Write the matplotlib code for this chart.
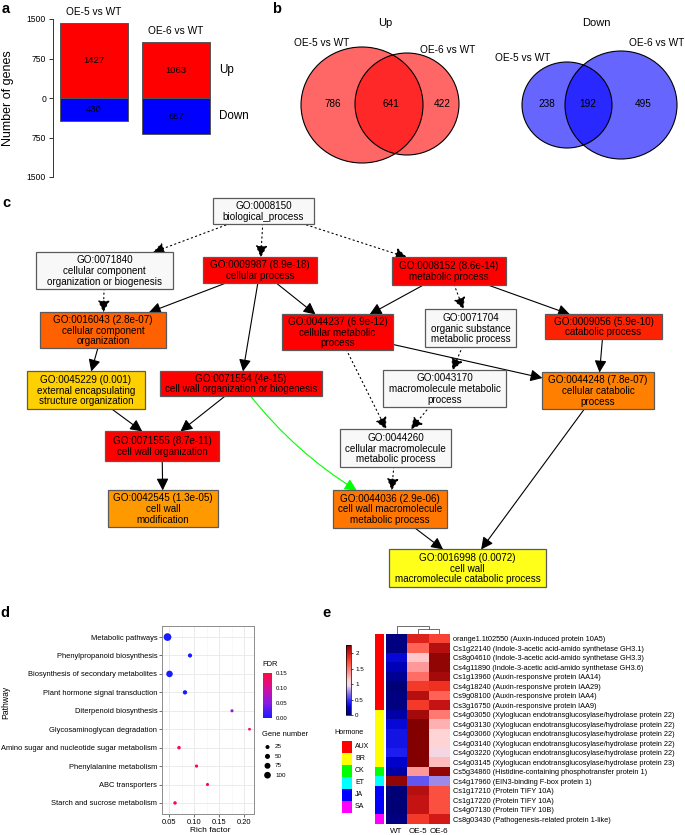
import numpy as np
import matplotlib
matplotlib.use("Agg")
import matplotlib.pyplot as plt
from matplotlib.patches import Rectangle, Ellipse, FancyArrowPatch
from matplotlib.colors import LinearSegmentedColormap, ListedColormap, Normalize
from matplotlib.cm import ScalarMappable

plt.rcParams['font.family'] = ['Liberation Sans', 'DejaVu Sans']

W, H = 685, 835

# ---------------- data: panel a (DEG counts)
comparisons = ['OE-5 vs WT', 'OE-6 vs WT']
up_counts = [1427, 1063]
down_counts = [430, 687]

# ---------------- data: panel b (Venn counts: only OE-5, shared, only OE-6)
venn_up = [786, 641, 422]
venn_down = [238, 192, 495]

# ---------------- data: panel c (GO graph)
go_ids = ['0008150', '0071840', '0009987', '0008152', '0016043', '0044237',
          '0071704', '0009056', '0045229', '0071554', '0043170', '0044248',
          '0071555', '0044260', '0042545', '0044036', '0016998']
go_pvals = [None, None, '8.9e-18', '8.6e-14', '2.8e-07', '6.9e-12',
            None, '5.9e-10', '0.001', '4e-15', None, '7.8e-07',
            '8.7e-11', None, '1.3e-05', '2.9e-06', '0.0072']
go_terms = ['biological_process',
            'cellular component\norganization or biogenesis',
            'cellular process',
            'metabolic process',
            'cellular component\norganization',
            'cellular metabolic\nprocess',
            'organic substance\nmetabolic process',
            'catabolic process',
            'external encapsulating\nstructure organization',
            'cell wall organization or biogenesis',
            'macromolecule metabolic\nprocess',
            'cellular catabolic\nprocess',
            'cell wall organization',
            'cellular macromolecule\nmetabolic process',
            'cell wall\nmodification',
            'cell wall macromolecule\nmetabolic process',
            'cell wall\nmacromolecule catabolic process']
# (parent, child, kind)
go_edges = [('0008150', '0071840', 'dot'), ('0008150', '0009987', 'dot'),
            ('0008150', '0008152', 'dot'), ('0071840', '0016043', 'dot'),
            ('0009987', '0016043', 'solid'), ('0009987', '0071554', 'solid'),
            ('0009987', '0044237', 'solid'), ('0008152', '0044237', 'solid'),
            ('0008152', '0071704', 'dot'), ('0008152', '0009056', 'solid'),
            ('0016043', '0045229', 'solid'), ('0045229', '0071555', 'solid'),
            ('0071554', '0071555', 'solid'), ('0071554', '0044036', 'green'),
            ('0044237', '0044260', 'dot'), ('0044237', '0044248', 'solid'),
            ('0071704', '0043170', 'dot'), ('0009056', '0044248', 'solid'),
            ('0043170', '0044260', 'dot'), ('0071555', '0042545', 'solid'),
            ('0044260', '0044036', 'dot'), ('0044036', '0016998', 'solid'),
            ('0044248', '0016998', 'solid')]

# ---------------- data: panel d (KEGG enrichment)
pathways = ['Metabolic pathways', 'Phenylpropanoid biosynthesis',
            'Biosynthesis of secondary metabolites', 'Plant hormone signal transduction',
            'Diterpenoid biosynthesis', 'Glycosaminoglycan degradation',
            'Amino sugar and nucleotide sugar metabolism', 'Phenylalanine metabolism',
            'ABC transporters', 'Starch and sucrose metabolism']
rich_factor = [0.047, 0.092, 0.051, 0.082, 0.176, 0.211, 0.070, 0.105, 0.127, 0.062]
gene_number = [140, 28, 95, 32, 8, 3, 15, 10, 8, 14]
fdr = [0.0, 0.0, 0.0, 0.0, 0.065, 0.14, 0.135, 0.14, 0.145, 0.14]
gene_legend = [25, 50, 75, 100]

# ---------------- data: panel e (hormone gene heatmap)
gene_labels = ['orange1.1t02550 (Auxin-induced protein 10A5)',
               'Cs1g22140 (Indole-3-acetic acid-amido synthetase GH3.1)',
               'Cs8g04610 (Indole-3-acetic acid-amido synthetase GH3.3)',
               'Cs4g11890 (Indole-3-acetic acid-amido synthetase GH3.6)',
               'Cs1g13960 (Auxin-responsive protein IAA14)',
               'Cs4g18240 (Auxin-responsive protein IAA29)',
               'Cs9g08100 (Auxin-responsive protein IAA4)',
               'Cs3g16750 (Auxin-responsive protein IAA9)',
               'Cs4g03050 (Xyloglucan endotransglucosylase/hydrolase protein 22)',
               'Cs4g03130 (Xyloglucan endotransglucosylase/hydrolase protein 22)',
               'Cs4g03060 (Xyloglucan endotransglucosylase/hydrolase protein 22)',
               'Cs4g03140 (Xyloglucan endotransglucosylase/hydrolase protein 22)',
               'Cs4g03220 (Xyloglucan endotransglucosylase/hydrolase protein 22)',
               'Cs4g03145 (Xyloglucan endotransglucosylase/hydrolase protein 23)',
               'Cs5g34860 (Histidine-containing phosphotransfer protein 1)',
               'Cs4g17960 (EIN3-binding F-box protein 1)',
               'Cs1g17210 (Protein TIFY 10A)',
               'Cs1g17220 (Protein TIFY 10A)',
               'Cs4g07130 (Protein TIFY 10B)',
               'Cs8g03430 (Pathogenesis-related protein 1-like)']
samples = ['WT', 'OE-5', 'OE-6']
expr_wt = [0.05, 0.05, 0.3, 0.2, 0.1, 0.02, 0.05, 0.05, 0.15, 0.3,
           0.35, 0.35, 0.4, 0.25, 0.15, 2.2, 0.02, 0.02, 0.02, 0.05]
expr_oe5 = [1.95, 1.6, 1.15, 1.35, 1.55, 1.8, 2.1, 1.8, 2.15, 2.25,
            2.25, 2.25, 2.25, 2.25, 1.35, 0.6, 2.1, 2.05, 2.05, 1.8]
expr_oe6 = [1.75, 2.1, 2.2, 2.2, 2.15, 1.85, 1.6, 2.05, 1.5, 1.25,
            1.1, 1.1, 1.0, 1.2, 2.2, 0.75, 1.7, 1.7, 1.7, 2.0]
gene_hormone = ['AUX'] * 8 + ['BR'] * 6 + ['CK', 'ET'] + ['JA'] * 3 + ['SA']
hormones = ['AUX', 'BR', 'CK', 'ET', 'JA', 'SA']
hormone_colors = ['#FF0000', '#FFFF00', '#00FF00', '#00FFFF', '#0000FF', '#FF00FF']
dendro_heights = [0.55, 1.0]   # (OE-5,OE-6) then WT


def px_axes(x0, y0, x1, y1):
    return fig.add_axes([x0 / W, 1 - y1 / H, (x1 - x0) / W, (y1 - y0) / H])


fig = plt.figure(figsize=(W / 100, H / 100), dpi=100)
canvas = fig.add_axes([0, 0, 1, 1])
canvas.set_xlim(0, W)
canvas.set_ylim(H, 0)
canvas.axis('off')

# panel letters
for lab, (lx, ly) in zip('abcde', [(2, 13), (272, 13), (2, 207), (0, 617), (322, 617)]):
    canvas.text(lx, ly, lab, fontsize=10.5, fontweight='bold', va='baseline', ha='left')

# ================= panel a
ax_a = px_axes(53, 19, 215, 177)
xs = np.arange(len(comparisons))
ax_a.bar(xs, up_counts, width=0.83, color='#FF0000', edgecolor='#555555', lw=0.7)
ax_a.bar(xs, [-v for v in down_counts], width=0.83, color='#0000FF', edgecolor='#555555', lw=0.7)
for i in xs:
    ax_a.text(i, up_counts[i] / 2, str(up_counts[i]), ha='center', va='center', fontsize=6.8)
    ax_a.text(i, -down_counts[i] / 2, str(down_counts[i]), ha='center', va='center', fontsize=6.8)
    ax_a.text(i, up_counts[i] + 200, comparisons[i], ha='center', va='center', fontsize=7.3)
ax_a.text(1.53, up_counts[-1] / 2, 'Up', ha='left', va='center', fontsize=8.4, clip_on=False)
ax_a.text(1.53, -down_counts[-1] / 2, 'Down', ha='left', va='center', fontsize=8.4, clip_on=False)
ax_a.set_xlim(-0.5, 1.476)
ax_a.set_ylim(-1500, 1500)
ax_a.set_yticks([1500, 750, 0, -750, -1500])
ax_a.set_yticklabels(['1500', '750', '0', '750', '1500'], fontsize=6.2)
ax_a.set_xticks([])
for s in ['top', 'right', 'bottom']:
    ax_a.spines[s].set_visible(False)
ax_a.spines['left'].set_color('#333333')
ax_a.spines['left'].set_linewidth(0.7)
ax_a.tick_params(axis='y', length=3, width=0.7, color='#333333', pad=2)
ax_a.set_ylabel('Number of genes', fontsize=9)
ax_a.yaxis.set_label_coords(-0.24, 0.5)
ax_a.patch.set_visible(False)

# ================= panel b (Venn)
venn_sets = [
    ('Up', 385, venn_up, (1, 0, 0, 0.6),
     [((362, 105), 122, 116), ((407, 104), 104, 102)],
     [(322, 43), (448, 50)], [333, 391, 442]),
    ('Down', 596, venn_down, (0, 0, 1, 0.6),
     [((567, 105), 90, 86), ((621, 105), 112, 108)],
     [(523, 58), (657, 43)], [547, 588, 643]),
]
for title, tx, counts, fc, ells, lab_pos, num_x in venn_sets:
    canvas.text(tx, 23, title, ha='center', va='center', fontsize=8)
    for (c, w, h) in ells:
        canvas.add_patch(Ellipse(c, w, h, facecolor=fc, edgecolor='none'))
    for (c, w, h) in ells:
        canvas.add_patch(Ellipse(c, w, h, facecolor='none', edgecolor='black', lw=0.8))
    for name, (lx, ly) in zip(['OE-5 vs WT', 'OE-6 vs WT'], lab_pos):
        canvas.text(lx, ly, name, ha='center', va='center', fontsize=7.3)
    for v, nx in zip(counts, num_x):
        canvas.text(nx, 104, str(v), ha='center', va='center', fontsize=7.2)

# ================= panel c (GO DAG)
go_boxes = {
    '0008150': (213, 198, 314, 224), '0071840': (36, 252, 173, 289),
    '0009987': (203, 257, 317, 283), '0008152': (392, 257, 506, 285),
    '0016043': (40, 312, 166, 348), '0044237': (282, 314, 393, 350),
    '0071704': (425, 309, 516, 347), '0009056': (545, 314, 662, 339),
    '0045229': (27, 371, 145, 409), '0071554': (160, 371, 322, 396),
    '0043170': (383, 370, 506, 407), '0044248': (542, 372, 654, 409),
    '0071555': (105, 431, 219, 461), '0044260': (340, 429, 451, 467),
    '0042545': (108, 490, 218, 527), '0044036': (333, 490, 447, 528),
    '0016998': (389, 549, 546, 587),
}
go_fill = {
    '0009987': '#FF0000', '0008152': '#FF0000', '0044237': '#FF0000',
    '0071554': '#FF0000', '0071555': '#FF0000', '0009056': '#FF2200',
    '0016043': '#FF6000', '0045229': '#FFD000', '0044248': '#FF8000',
    '0042545': '#FF9900', '0044036': '#FF7700', '0016998': '#FFFF1A',
}
rects = {}
for gid, pv, term in zip(go_ids, go_pvals, go_terms):
    x0, y0, x1, y1 = go_boxes[gid]
    r = Rectangle((x0, y0), x1 - x0, y1 - y0, facecolor=go_fill.get(gid, '#F8F8F8'),
                  edgecolor='#5A5A5A', lw=0.9, zorder=3)
    canvas.add_patch(r)
    rects[gid] = r
    head = 'GO:' + gid if pv is None else 'GO:%s (%s)' % (gid, pv)
    canvas.text((x0 + x1) / 2, (y0 + y1) / 2 + 0.5, head + '\n' + term, ha='center', va='center',
                fontsize=7.1, linespacing=1.12, zorder=4)

for src, dst, kind in go_edges:
    bs, bd = go_boxes[src], go_boxes[dst]
    ps = ((bs[0] + bs[2]) / 2, (bs[1] + bs[3]) / 2)
    pd_ = ((bd[0] + bd[2]) / 2, (bd[1] + bd[3]) / 2)
    col = '#00FF00' if kind == 'green' else 'black'
    ls = (0, (1.2, 2.8)) if kind == 'dot' else '-'
    cs = 'arc3,rad=0.12' if kind == 'green' else 'arc3'
    arr = FancyArrowPatch(ps, pd_, patchA=rects[src], patchB=rects[dst],
                          arrowstyle='-|>,head_length=0.6,head_width=0.3',
                          mutation_scale=12, shrinkA=0, shrinkB=0, color=col,
                          lw=0.8, linestyle=ls, connectionstyle=cs, zorder=2)
    canvas.add_patch(arr)

# ================= panel d (KEGG bubble plot)
ax_d = px_axes(162, 626, 254, 814)
yy = np.arange(len(pathways))
sizes = [3.5 + 0.195 * n for n in gene_number]
cmap_fdr = LinearSegmentedColormap.from_list(
    'fdr', ['#1A1AFF', '#8A1AE6', '#D4109A', '#FF0A3C'])
ax_d.scatter(rich_factor, yy, s=sizes, c=fdr, cmap=cmap_fdr, vmin=0, vmax=0.15,
             edgecolors='none', zorder=3)
ax_d.set_xlim(0.036, 0.22)
ax_d.set_ylim(len(pathways) - 0.4, -0.6)
ax_d.set_yticks(yy)
ax_d.set_yticklabels(pathways, fontsize=5.4)
ax_d.set_xticks([0.05, 0.10, 0.15, 0.20])
ax_d.set_xticklabels(['0.05', '0.10', '0.15', '0.20'], fontsize=5.4)
ax_d.set_xticks([0.075, 0.125, 0.175], minor=True)
ax_d.grid(True, which='major', color='#EBEBEB', lw=0.7, zorder=0)
ax_d.grid(True, which='minor', axis='x', color='#F3F3F3', lw=0.4, zorder=0)
ax_d.set_axisbelow(True)
ax_d.tick_params(which='major', length=2, width=0.5, color='#333333', pad=1.5)
ax_d.tick_params(which='minor', length=0)
for s in ax_d.spines.values():
    s.set_color('#8C8C8C')
    s.set_linewidth(0.7)
canvas.text(6, 702, 'Pathway', rotation=90, ha='center', va='center', fontsize=6.2)
canvas.text(210, 831, 'Rich factor', ha='center', va='center', fontsize=6.0)

# FDR colorbar
cax_d = px_axes(263, 673, 272, 718)
cb_d = fig.colorbar(ScalarMappable(Normalize(0, 0.15), cmap_fdr), cax=cax_d)
cb_d.set_ticks([0, 0.05, 0.10, 0.15])
cb_d.set_ticklabels(['0.00', '0.05', '0.10', '0.15'])
cb_d.ax.tick_params(labelsize=4.3, length=1.5, width=0.5, color='white', pad=1.5)
cb_d.outline.set_visible(False)
canvas.text(262, 664, 'FDR', ha='left', va='center', fontsize=5.4)
canvas.text(262, 735, 'Gene number', ha='left', va='center', fontsize=5.4)
for k, g in enumerate(gene_legend):
    canvas.scatter(267.5, 747 + k * 9.4, s=3.5 + 0.195 * g, color='black', edgecolors='none')
    canvas.text(275, 747 + k * 9.4, str(g), ha='left', va='center', fontsize=4.5)

# ================= panel e (heatmap)
cmap_e = LinearSegmentedColormap.from_list('expr', [
    (0.00, '#000070'), (0.25 / 2.26, '#0000CC'), (0.45 / 2.26, '#2828FF'),
    (0.70 / 2.26, '#8C78E6'), (0.95 / 2.26, '#F0D8EC'), (1.10 / 2.26, '#FFD4D4'),
    (1.40 / 2.26, '#FF8C8C'), (1.65 / 2.26, '#FF5A4A'), (1.85 / 2.26, '#F03020'),
    (2.05 / 2.26, '#C81414'), (1.0, '#800000')])
mat = np.column_stack([expr_wt, expr_oe5, expr_oe6])
ax_e = px_axes(386, 634, 450, 824)
ax_e.imshow(mat, aspect='auto', cmap=cmap_e, vmin=0, vmax=2.26, interpolation='nearest')
ax_e.yaxis.tick_right()
ax_e.set_yticks(np.arange(len(gene_labels)))
ax_e.set_yticklabels(gene_labels, fontsize=5.35)
ax_e.set_xticks(np.arange(len(samples)))
ax_e.set_xticklabels(samples, fontsize=5.8)
ax_e.tick_params(length=0, pad=2)
ax_e.tick_params(axis='x', pad=3)
for s in ax_e.spines.values():
    s.set_visible(False)

# hormone side bar
ax_side = px_axes(375, 634, 384, 824)
hidx = np.array([[hormones.index(h)] for h in gene_hormone])
ax_side.imshow(hidx, aspect='auto', cmap=ListedColormap(hormone_colors),
               vmin=-0.5, vmax=len(hormones) - 0.5, interpolation='nearest')
ax_side.axis('off')

# column dendrogram
ax_dg = px_axes(386, 625, 450, 634)
ax_dg.plot([1, 1, 2, 2], [0, dendro_heights[0], dendro_heights[0], 0], color='#555555', lw=0.6)
ax_dg.plot([0, 0, 1.5, 1.5], [0, dendro_heights[1], dendro_heights[1], dendro_heights[0]],
           color='#555555', lw=0.6)
ax_dg.set_xlim(-0.5, 2.5)
ax_dg.set_ylim(-0.05, 1.08)
ax_dg.axis('off')

# expression colorbar
cax_e = px_axes(346, 645, 351, 715)
cb_e = fig.colorbar(ScalarMappable(Normalize(0, 2.26), cmap_e), cax=cax_e)
cb_e.set_ticks([0, 0.5, 1, 1.5, 2])
cb_e.set_ticklabels(['0', '0.5', '1', '1.5', '2'])
cb_e.ax.tick_params(labelsize=4.5, length=1.5, width=0.5, pad=1.5)
cb_e.outline.set_linewidth(0.5)

# hormone legend
canvas.text(334, 732, 'Hormone', ha='left', va='center', fontsize=5.1)
for k, (hname, hcol) in enumerate(zip(hormones, hormone_colors)):
    canvas.add_patch(Rectangle((342, 741 + k * 12), 10, 12, facecolor=hcol, edgecolor='none'))
    canvas.text(355, 747 + k * 12, hname, ha='left', va='center', fontsize=5.0)

fig.savefig('out.png', dpi=100)
